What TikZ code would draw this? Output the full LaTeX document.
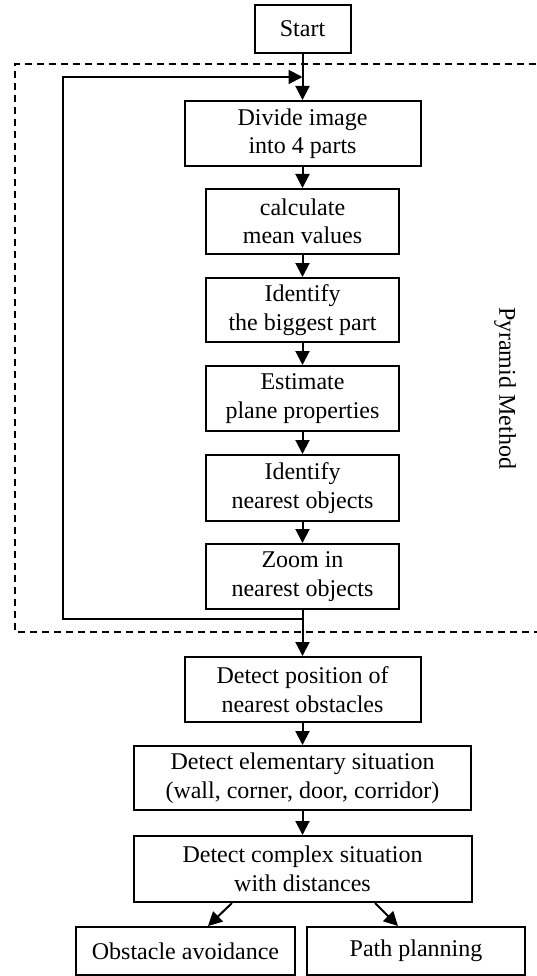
\documentclass[tikz,border=0pt]{standalone}
\usepackage{fontspec}
\setmainfont{Liberation Serif}
\usetikzlibrary{arrows.meta,calc}
\begin{document}
\begin{tikzpicture}[x=1pt,y=-1pt,
  box/.style={draw,line width=2pt,inner sep=0pt,align=center,
    font=\fontsize{24pt}{28.5pt}\selectfont},
  conn/.style={line width=2pt,-{Triangle[length=14pt,width=14pt]}},
  frame/.style={line width=1.5pt,dash pattern=on 7pt off 5pt}]
\useasboundingbox (0,0) rectangle (537,976);
\begin{scope}
\clip (0,0) rectangle (537,976);
\draw[frame] (560,64) -- (15,64) -- (15,632) -- (560,632);
\end{scope}
\node[box,minimum width=96pt,minimum height=48pt] (start) at (302.5,29) {Start};
\node[box,minimum width=236pt,minimum height=65pt] (divide) at (302.5,133.5) {Divide image\\into 4 parts};
\node[box,minimum width=193pt,minimum height=65pt] (calc) at (302.5,221.5) {calculate\\mean values};
\node[box,minimum width=193pt,minimum height=64pt] (big) at (302.5,310) {Identify\\the biggest part};
\node[box,minimum width=193pt,minimum height=65pt] (est) at (302.5,398.5) {Estimate\\plane properties};
\node[box,minimum width=193pt,minimum height=66pt] (near) at (302.5,488) {Identify\\nearest objects};
\node[box,minimum width=193pt,minimum height=65pt] (zoom) at (302.5,576.5) {Zoom in\\nearest objects};
\node[box,minimum width=236pt,minimum height=65pt] (pos) at (302.5,689.5) {Detect position of\\nearest obstacles};
\node[box,minimum width=337pt,minimum height=64pt] (elem) at (302.5,778) {Detect elementary situation\\(wall, corner, door, corridor)};
\node[box,minimum width=338pt,minimum height=66pt] (cplx) at (302.5,869) {Detect complex situation\\with distances};
\node[box,minimum width=219pt,minimum height=48pt] (obst) at (185.5,951) {Obstacle avoidance};
\node[box,minimum width=218pt,minimum height=48pt] (path) at (416,951) {Path planning};
\node[font=\fontsize{24pt}{28.5pt}\selectfont,rotate=-90] (pyr) at (505,388) {Pyramid Method};
\coordinate (loopb) at (302.5,619);
\coordinate (loopt) at (302.5,77);
\draw[conn] (start.south) -- (divide.north);
\draw[conn] (divide.south) -- (calc.north);
\draw[conn] (calc.south) -- (big.north);
\draw[conn] (big.south) -- (est.north);
\draw[conn] (est.south) -- (near.north);
\draw[conn] (near.south) -- (zoom.north);
\draw[conn] (zoom.south) -- (pos.north);
\draw[conn] (loopb) -- (63,619) -- (63,77) -- (loopt);
\draw[conn] (pos.south) -- (elem.north);
\draw[conn] (elem.south) -- (cplx.north);
\draw[conn] ($(cplx.south)+(-70.5,0)$) -- ($(obst.north)+(22.5,0)$);
\draw[conn] ($(cplx.south)+(72.5,0)$) -- ($(path.north)+(-18,0)$);
\end{tikzpicture}
\end{document}
